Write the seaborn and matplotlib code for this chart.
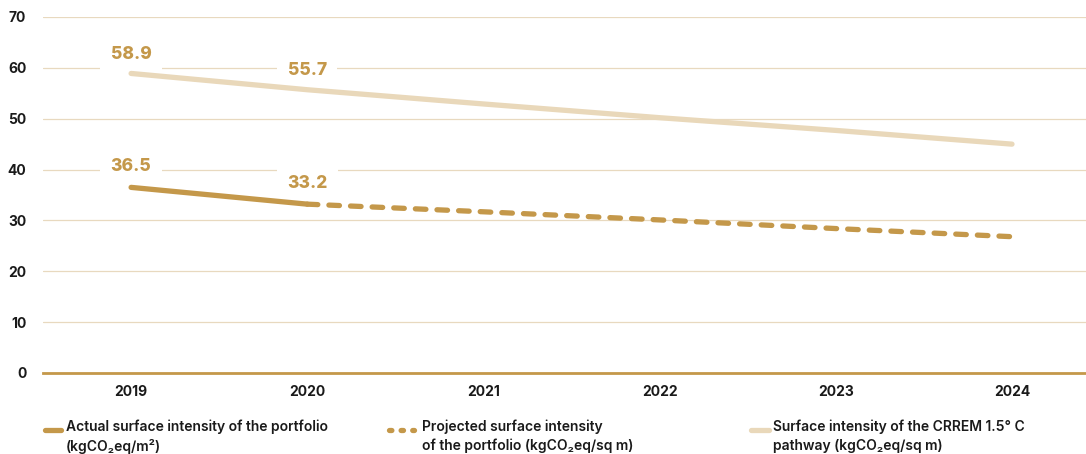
import matplotlib
matplotlib.use("Agg")
import matplotlib.pyplot as plt
import seaborn as sns
import pandas as pd
from matplotlib.lines import Line2D

years = ["2019", "2020", "2021", "2022", "2023", "2024"]
actual = [36.5, 33.2]
projected = [33.2, 31.7, 30.1, 28.4, 26.8]
crrem = [58.9, 55.7, 52.9, 50.2, 47.7, 45.0]
label_actual = ["36.5", "33.2"]
label_crrem = ["58.9", "55.7"]
y_ticks = [0, 10, 20, 30, 40, 50, 60, 70]

legend_labels = [
    "Actual surface intensity of the portfolio\n(kgCO\u2082eq/m\u00b2)",
    "Projected surface intensity\nof the portfolio (kgCO\u2082eq/sq m)",
    "Surface intensity of the CRREM 1.5\u00b0 C\npathway (kgCO\u2082eq/sq m)",
]

GOLD = "#C4984A"
LIGHT = "#E9D8BA"
GRID = "#E8D9BF"
TXT = "#1A1A1A"

sns.set_style("white")
plt.rcParams['font.family'] = ['Inter', 'DejaVu Sans']

fig = plt.figure(figsize=(10.86, 4.54), dpi=100)
ax = fig.add_axes([43/1086, 1-373/454, 1-43/1086, (373-17)/454])

x_idx = list(range(len(years)))
df_c = pd.DataFrame({"x": x_idx, "y": crrem})
df_p = pd.DataFrame({"x": x_idx[1:], "y": projected})
df_a = pd.DataFrame({"x": x_idx[:2], "y": actual})

sns.lineplot(data=df_c, x="x", y="y", ax=ax, color=LIGHT, lw=3.8,
             solid_capstyle="round", zorder=3)
lp = sns.lineplot(data=df_p, x="x", y="y", ax=ax, color=GOLD, lw=3.8, zorder=3)
lp.lines[-1].set_dashes((2.0, 2.1))
lp.lines[-1].set_dash_capstyle("round")
sns.lineplot(data=df_a, x="x", y="y", ax=ax, color=GOLD, lw=3.8,
             solid_capstyle="round", zorder=4)

for i, (la, lc) in enumerate(zip(label_actual, label_crrem)):
    for val, txt, dy in ((actual[i], la, 4.1), (crrem[i], lc, 3.8)):
        ax.text(i, val + dy, txt, ha="center", va="center", fontsize=12.5,
                fontweight="heavy", color=GOLD, zorder=2.5,
                bbox=dict(boxstyle="square,pad=0.6", fc="white", ec="none"))

ax.set_xlim(-0.5, 5.42)
ax.set_ylim(0, 70)
ax.set_yticks(y_ticks)
ax.set_xticks(x_idx)
ax.set_xticklabels(years)
ax.set_xlabel("")
ax.set_ylabel("")
ax.yaxis.grid(True, color=GRID, lw=0.9, zorder=0)
ax.set_axisbelow(True)
for s in ["top", "right", "left"]:
    ax.spines[s].set_visible(False)
ax.spines["bottom"].set_color(GOLD)
ax.spines["bottom"].set_linewidth(2.0)
ax.tick_params(axis="both", length=0, labelsize=10, colors=TXT)
ax.tick_params(axis="y", pad=12)
ax.tick_params(axis="x", pad=9)
for t in ax.get_xticklabels() + ax.get_yticklabels():
    t.set_fontweight("bold")

# legend
handles_x = [(45, 61), (389, 414), (751, 769)]
text_x = [66, 422, 773]
styles = ["-", "dash", "-"]
colors = [GOLD, GOLD, LIGHT]
for (x0, x1), tx, st, c, lab in zip(handles_x, text_x, styles, colors, legend_labels):
    ln = Line2D([x0/1086, x1/1086], [1-430/454]*2, transform=fig.transFigure,
                color=c, lw=3.8, solid_capstyle="round")
    if st == "dash":
        ln.set_dashes((0.45, 1.75))
        ln.set_dash_capstyle("round")
    fig.add_artist(ln)
    fig.text(tx/1086, 1-420/454, lab, ha="left", va="top", fontsize=10,
             fontweight="semibold", color=TXT, linespacing=1.38)

fig.savefig("out.png", dpi=100)
